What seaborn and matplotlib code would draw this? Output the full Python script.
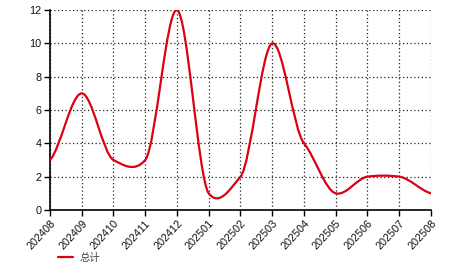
import numpy as np
import pandas as pd
import seaborn as sns
import matplotlib
matplotlib.use("Agg")
import matplotlib.pyplot as plt
from matplotlib.path import Path
from matplotlib.patches import PathPatch
from matplotlib.lines import Line2D

months = ["202408", "202409", "202410", "202411", "202412", "202501", "202502",
          "202503", "202504", "202505", "202506", "202507", "202508"]
totals = [3, 7, 3, 3, 12, 1, 2, 10, 4, 1, 2, 2, 1]
series_name = "总计"
y_ticks = [0, 2, 4, 6, 8, 10, 12]

sns.set_theme(style="white")
plt.rcParams["font.family"] = ["Liberation Sans", "Noto Sans CJK SC", "DejaVu Sans"]

red = "#dc0014"
fig = plt.figure(figsize=(4.66, 2.72), dpi=100)
ax = fig.add_axes([50 / 466, 1 - 210 / 272, (431 - 50) / 466, 200 / 272])

df = pd.DataFrame({"idx": np.arange(len(months)), "v": totals})
sns.lineplot(data=df, x="idx", y="v", ax=ax, color=red, lw=1.6)
base = ax.lines[0]
base.set_visible(False)

# smooth rendering of the same data (cardinal spline drawn as bezier path)
x = df["idx"].to_numpy(dtype=float)
y = df["v"].to_numpy(dtype=float)
c = 0.25
m = np.empty_like(y)
m[1:-1] = c * (y[2:] - y[:-2])
m[0] = 2 * c * (y[1] - y[0])
m[-1] = 2 * c * (y[-1] - y[-2])
verts = [(x[0], y[0])]
codes = [Path.MOVETO]
for i in range(len(x) - 1):
    verts += [(x[i] + 1 / 3, y[i] + m[i] / 3),
              (x[i + 1] - 1 / 3, y[i + 1] - m[i + 1] / 3),
              (x[i + 1], y[i + 1])]
    codes += [Path.CURVE4] * 3
ax.add_patch(PathPatch(Path(verts, codes), facecolor="none", edgecolor=red,
                       lw=1.6, zorder=3, capstyle="round", joinstyle="round"))

ax.set_xlim(0, len(months) - 1)
ax.set_ylim(0, 12)
ax.set_xticks(range(len(months)))
ax.set_xticklabels(months, rotation=47, ha="right", rotation_mode="anchor",
                   fontsize=7.8, color="#111111")
ax.set_yticks(y_ticks)
ax.set_yticklabels([str(t) for t in y_ticks], fontsize=7.8, color="#111111")
ax.set_xlabel("")
ax.set_ylabel("")
ax.grid(True, color="#222222", linestyle=(0, (1, 2)), linewidth=0.9)
ax.set_axisbelow(True)
for s in ["top", "right"]:
    ax.spines[s].set_visible(False)
for s in ["left", "bottom"]:
    ax.spines[s].set_color("black")
    ax.spines[s].set_linewidth(1.2)
ax.tick_params(axis="both", which="major", direction="out", length=4,
               width=1, color="black", pad=2, left=True, bottom=True)

handle = Line2D([0], [0], color=red, lw=1.6)
fig.legend([handle], [series_name], loc="center left",
           bbox_to_anchor=(58 / 466, 1 - 258 / 272), frameon=False,
           borderpad=0, borderaxespad=0,
           handlelength=1.45, handletextpad=0.65, labelcolor="#444444",
           prop={"family": ["Noto Sans CJK SC", "DejaVu Sans"], "size": 7.5})
if ax.get_legend() is not None:
    ax.get_legend().remove()

fig.savefig("out.png", dpi=100)
